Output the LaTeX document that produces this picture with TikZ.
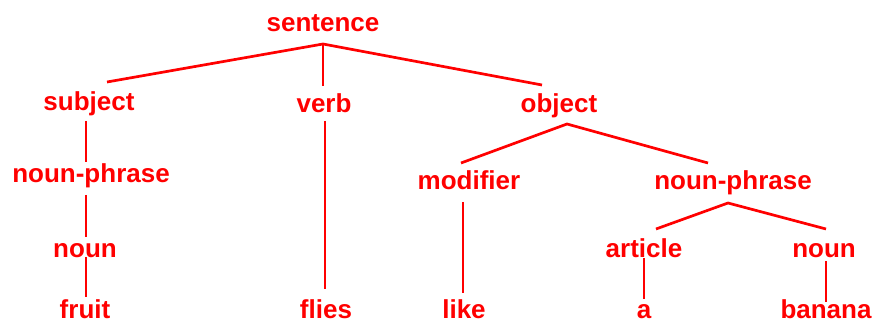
\documentclass[tikz,border=0pt]{standalone}
\usepackage{fontspec}
\setmainfont{Liberation Sans}
\begin{document}
\begin{tikzpicture}[x=1pt,y=1pt,
  lbl/.style={text=red, font=\fontsize{26}{30}\selectfont\bfseries, inner sep=0pt, anchor=base},
  edge/.style={draw=red, line width=2.7pt}]
\useasboundingbox (0,0) rectangle (874,324);

% tree labels, placed by their baselines
\node[lbl] (sentence) at (323,292) {sentence};
\node[lbl] (subject)  at (89,213)  {subject};
\node[lbl] (verb)     at (324,211) {verb};
\node[lbl] (object)   at (559,211) {object};
\node[lbl] (np1)      at (91,141)  {noun-phrase};
\node[lbl] (modifier) at (469,134) {modifier};
\node[lbl] (np2)      at (733,134) {noun-phrase};
\node[lbl] (noun1)    at (85,67)   {noun};
\node[lbl] (article)  at (644,67)  {article};
\node[lbl] (noun2)    at (824,67)  {noun};
\node[lbl] (fruit)    at (85,6)    {fruit};
\node[lbl] (flies)    at (326,6)   {flies};
\node[lbl] (like)     at (464,6)   {like};
\node[lbl] (a)        at (644,6)   {a};
\node[lbl] (banana)   at (826,6)   {banana};

% branch points and line ends
\coordinate (sentence-fork) at (323,280);
\coordinate (subject-top)   at (107,242);
\coordinate (verb-top)      at (323,238);
\coordinate (object-top)    at (542,239);
\coordinate (subject-bot)   at (86,203);
\coordinate (np1-top)       at (86,162);
\coordinate (verb-bot)      at (325,203);
\coordinate (flies-top)     at (325,35);
\coordinate (object-fork)   at (567,200);
\coordinate (modifier-top)  at (461,161);
\coordinate (np2-top)       at (708,161);
\coordinate (np1-bot)       at (86,129);
\coordinate (noun1-top)     at (86,87);
\coordinate (noun1-bot)     at (86,67);
\coordinate (fruit-top)     at (86,27);
\coordinate (modifier-bot)  at (463,122);
\coordinate (like-top)      at (463,31);
\coordinate (np2-fork)      at (728,121);
\coordinate (article-top)   at (656,95);
\coordinate (noun2-top)     at (826,95);
\coordinate (article-bot)   at (644,66);
\coordinate (a-top)         at (644,25);
\coordinate (noun2-bot)     at (826,63);
\coordinate (banana-top)    at (826,22);

% branches
\draw[edge] (subject-top) -- (sentence-fork) -- (object-top);
\draw[edge] (sentence-fork) -- (verb-top);
\draw[edge] (subject-bot) -- (np1-top);
\draw[edge] (verb-bot) -- (flies-top);
\draw[edge] (modifier-top) -- (object-fork) -- (np2-top);
\draw[edge] (np1-bot) -- (noun1-top);
\draw[edge] (noun1-bot) -- (fruit-top);
\draw[edge] (modifier-bot) -- (like-top);
\draw[edge] (article-top) -- (np2-fork) -- (noun2-top);
\draw[edge] (article-bot) -- (a-top);
\draw[edge] (noun2-bot) -- (banana-top);
\end{tikzpicture}
\end{document}
